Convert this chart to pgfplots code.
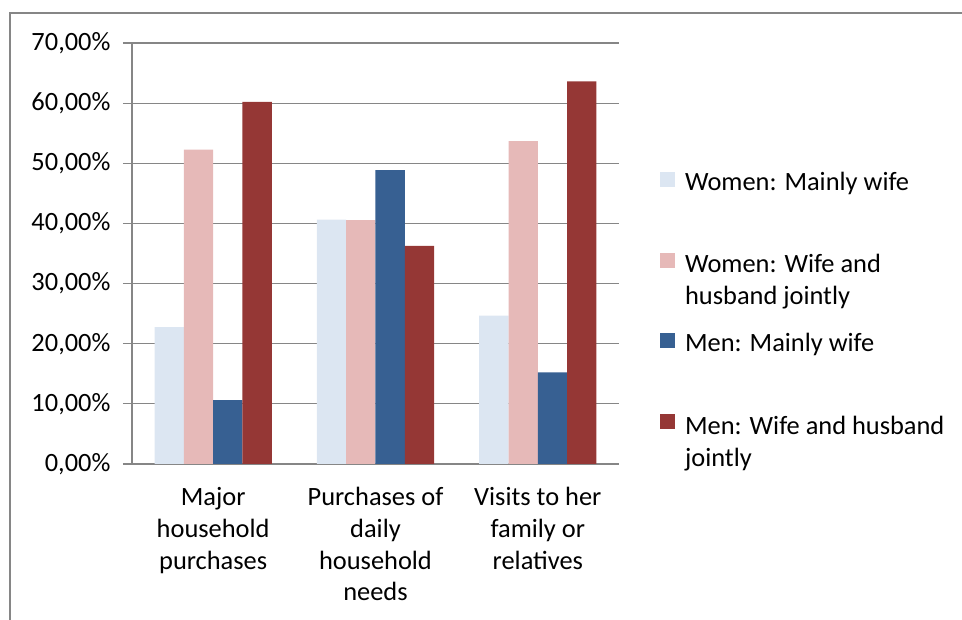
\documentclass[border=0pt]{standalone}
\usepackage{pgfplots}
\pgfplotsset{compat=1.18}
\usepackage{fontspec}
\setmainfont{Carlito}
\definecolor{wmain}{HTML}{DCE6F2}
\definecolor{wjoint}{HTML}{E6B9B8}
\definecolor{mmain}{HTML}{376092}
\definecolor{mjoint}{HTML}{953735}
\definecolor{gridgray}{HTML}{868686}
\begin{document}
\begin{tikzpicture}[x=1pt,y=1pt]
\path[use as bounding box] (0,0) rectangle (962,620);
\draw[gridgray, line width=1.2pt] (10,0) -- (10,607) -- (962,607);
\begin{axis}[
  at={(132pt,156pt)}, anchor=south west,
  scale only axis, width=487pt, height=421pt,
  font=\fontsize{26.4}{31.7}\selectfont,
  ybar=0pt, bar width=29.3pt,
  xmin=-0.5, xmax=2.5, ymin=0, ymax=70,
  axis x line*=bottom, axis y line*=left,
  axis line style={gridgray, line width=1.2pt, -},
  ytick={0,10,20,30,40,50,60,70},
  yticklabels={{0,00\%},{10,00\%},{20,00\%},{30,00\%},{40,00\%},{50,00\%},{60,00\%},{70,00\%}},
  yticklabel style={xshift=-9pt},
  ymajorgrids, grid style={gridgray, line width=1.2pt},
  tick align=outside, major tick length=9pt,
  tick style={gridgray, line width=1.2pt},
  xtick={0,1,2},
  xticklabels={{Major\\household\\purchases},{Purchases of\\daily\\household\\needs},{Visits to her\\family or\\relatives}},
  xticklabel style={align=center, yshift=-11pt},
  x tick style={draw=none},
  extra x ticks={-0.5,0.5,1.5,2.5},
  extra x tick labels={},
  extra x tick style={grid=none, tick style={gridgray, line width=1.2pt}},
  legend cell align=left,
  legend style={at={(1.084,0.699)}, anchor=north west, draw=none, fill=none,
    inner sep=0pt, column sep=8pt, row sep=55pt,
    cells={inner sep=0pt}},
  legend image code/.code={\fill[#1, draw=none] (0pt,-5pt) rectangle (15pt,10pt);},
]
\addplot[fill=wmain, draw=none] coordinates {(0,22.74) (1,40.65) (2,24.68)};
\addplot[fill=wjoint, draw=none] coordinates {(0,52.25) (1,40.54) (2,53.69)};
\addplot[fill=mmain, draw=none] coordinates {(0,10.60) (1,48.86) (2,15.25)};
\addplot[fill=mjoint, draw=none] coordinates {(0,60.20) (1,36.27) (2,63.62)};
\legend{{Women: Mainly wife},
  {\begin{tabular}[t]{@{}l@{}}Women: Wife and\\husband jointly\end{tabular}},
  {Men: Mainly wife},
  {\begin{tabular}[t]{@{}l@{}}Men: Wife and husband\\jointly\end{tabular}}}
\end{axis}
\end{tikzpicture}
\end{document}
